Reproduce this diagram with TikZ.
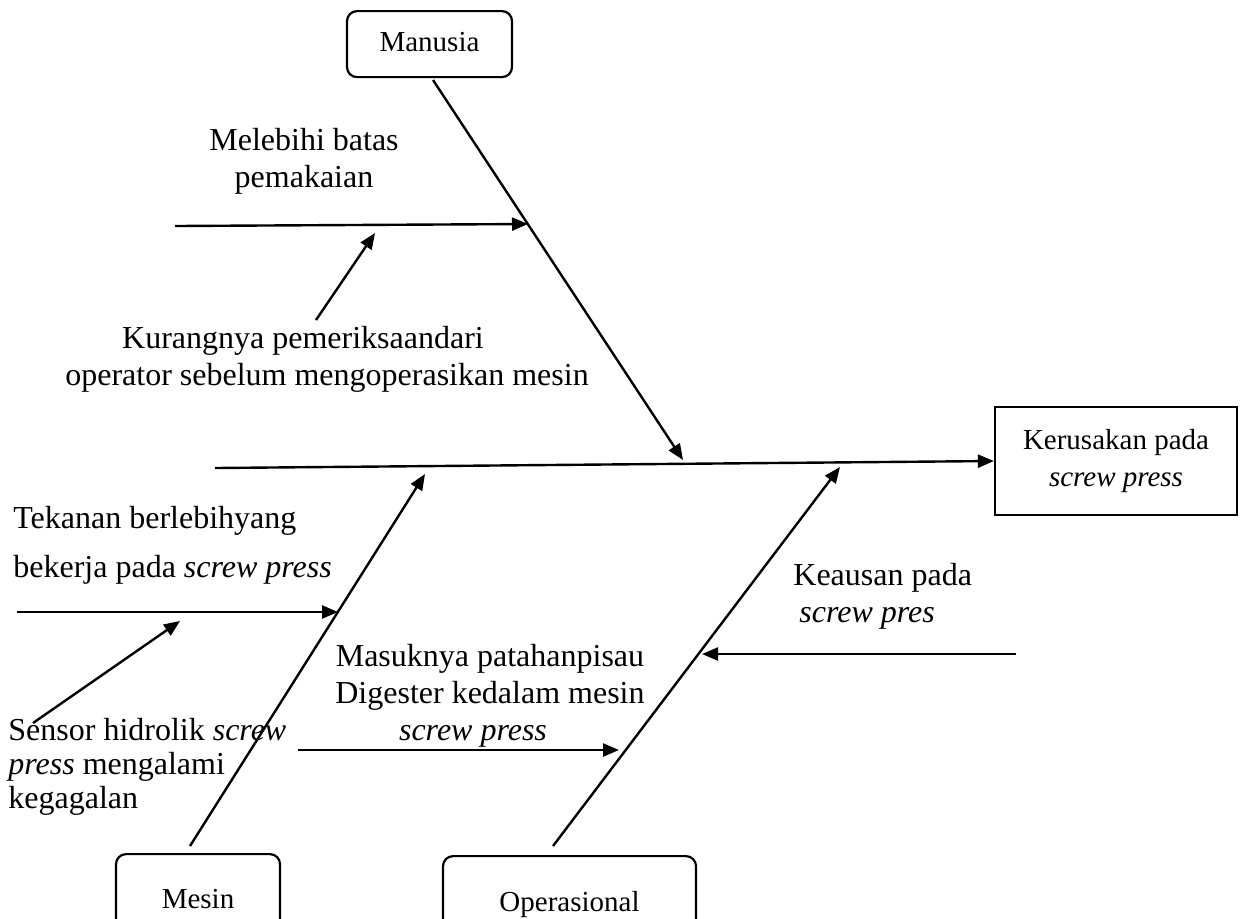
\documentclass[tikz,border=0pt]{standalone}
\usepackage{fontspec}
\setmainfont{Liberation Serif}
\usetikzlibrary{arrows.meta, positioning, calc}
\begin{document}
\begin{tikzpicture}[
  x=0.5pt, y=-0.5pt,
  kat/.style={draw, line width=1.1pt, rounded corners=5pt, inner ysep=0pt, font=\fontsize{14.5}{17}\selectfont},
  lbl/.style={inner sep=0pt, font=\fontsize{16}{18.5}\selectfont},
  e/.style={line width=1.2pt, -{Triangle[length=8pt, width=6.5pt]}},
  bone/.style={line width=1.2pt}
]
\useasboundingbox (0,0) rectangle (1240,918);
\clip (0,0) rectangle (1240,918);
% kategori
\node[kat, minimum width=82.5pt, text height=20pt, text depth=13pt] (man) at (429.5,10) [anchor=north] {Manusia};
\node[kat, minimum width=82pt, text height=27pt, text depth=20pt] (mes) at (198,853) [anchor=north] {Mesin};
\node[kat, minimum width=126.5pt, text height=27.5pt, text depth=20pt] (ops) at (569.5,855) [anchor=north] {Operasional};
\node[draw, line width=1.1pt, minimum width=121pt, minimum height=54pt, align=center,
  font=\fontsize{14.5}{18.5}\selectfont] (hasil) at (1116,461) {Kerusakan pada\\\textit{screw press}};
% tulang
\coordinate (sp0) at (215,468);
\coordinate (man0) at (433,80);
\coordinate (man1) at (683,460);
\coordinate (mes0) at (190,846);
\coordinate (mes1) at (425,474);
\coordinate (ops0) at (553,846);
\coordinate (ops1) at (840,467);
\draw[e] (sp0) -- (hasil.west);
\draw[e] (man0) -- (man1);
\draw[e] (mes0) -- (mes1);
\draw[e] (ops0) -- (ops1);
% sebab (base = baris terakhir)
\node[lbl, align=center, anchor=base] (lebih) at (304,187) {Melebihi batas\\pemakaian};
\node[lbl, align=center, anchor=base] (kurang) at (327,385) {\hspace*{-24pt}Kurangnya pemeriksaandari\\operator sebelum mengoperasikan mesin};
\node[lbl, align=left, anchor=base west] (tekan) at (13,577) {Tekanan berlebihyang\\[6pt]bekerja pada \textit{screw press}};
\node[lbl, align=left, anchor=base west, font=\fontsize{16}{17}\selectfont] (sensor) at (8,808) {Sensor hidrolik \textit{screw}\\\textit{press} mengalami\\kegagalan};
\node[lbl, align=center, anchor=base] (masuk) at (490,740) {Masuknya patahanpisau\\Digester kedalam mesin\\\hspace*{-17pt}\textit{screw press}};
\node[lbl, align=left, anchor=base west] (aus) at (793,622) {Keausan pada\\\hspace{3pt}\textit{screw pres}};
\coordinate (a1) at (175,226);  \coordinate (a2) at (528,224);
\coordinate (b1) at (316,320);  \coordinate (b2) at (375,233);
\coordinate (c1) at (17,612);   \coordinate (c2) at (338,612);
\coordinate (d1) at (33,723);   \coordinate (d2) at (180,621);
\coordinate (f1) at (298,750);  \coordinate (f2) at (619,750);
\coordinate (g1) at (1016,654); \coordinate (g2) at (702,654);
\draw[e] (a1) -- (a2);
\draw[e] (b1) -- (b2);
\draw[e] (c1) -- (c2);
\draw[e] (d1) -- (d2);
\draw[e] (f1) -- (f2);
\draw[e] (g1) -- (g2);
\end{tikzpicture}
\end{document}
